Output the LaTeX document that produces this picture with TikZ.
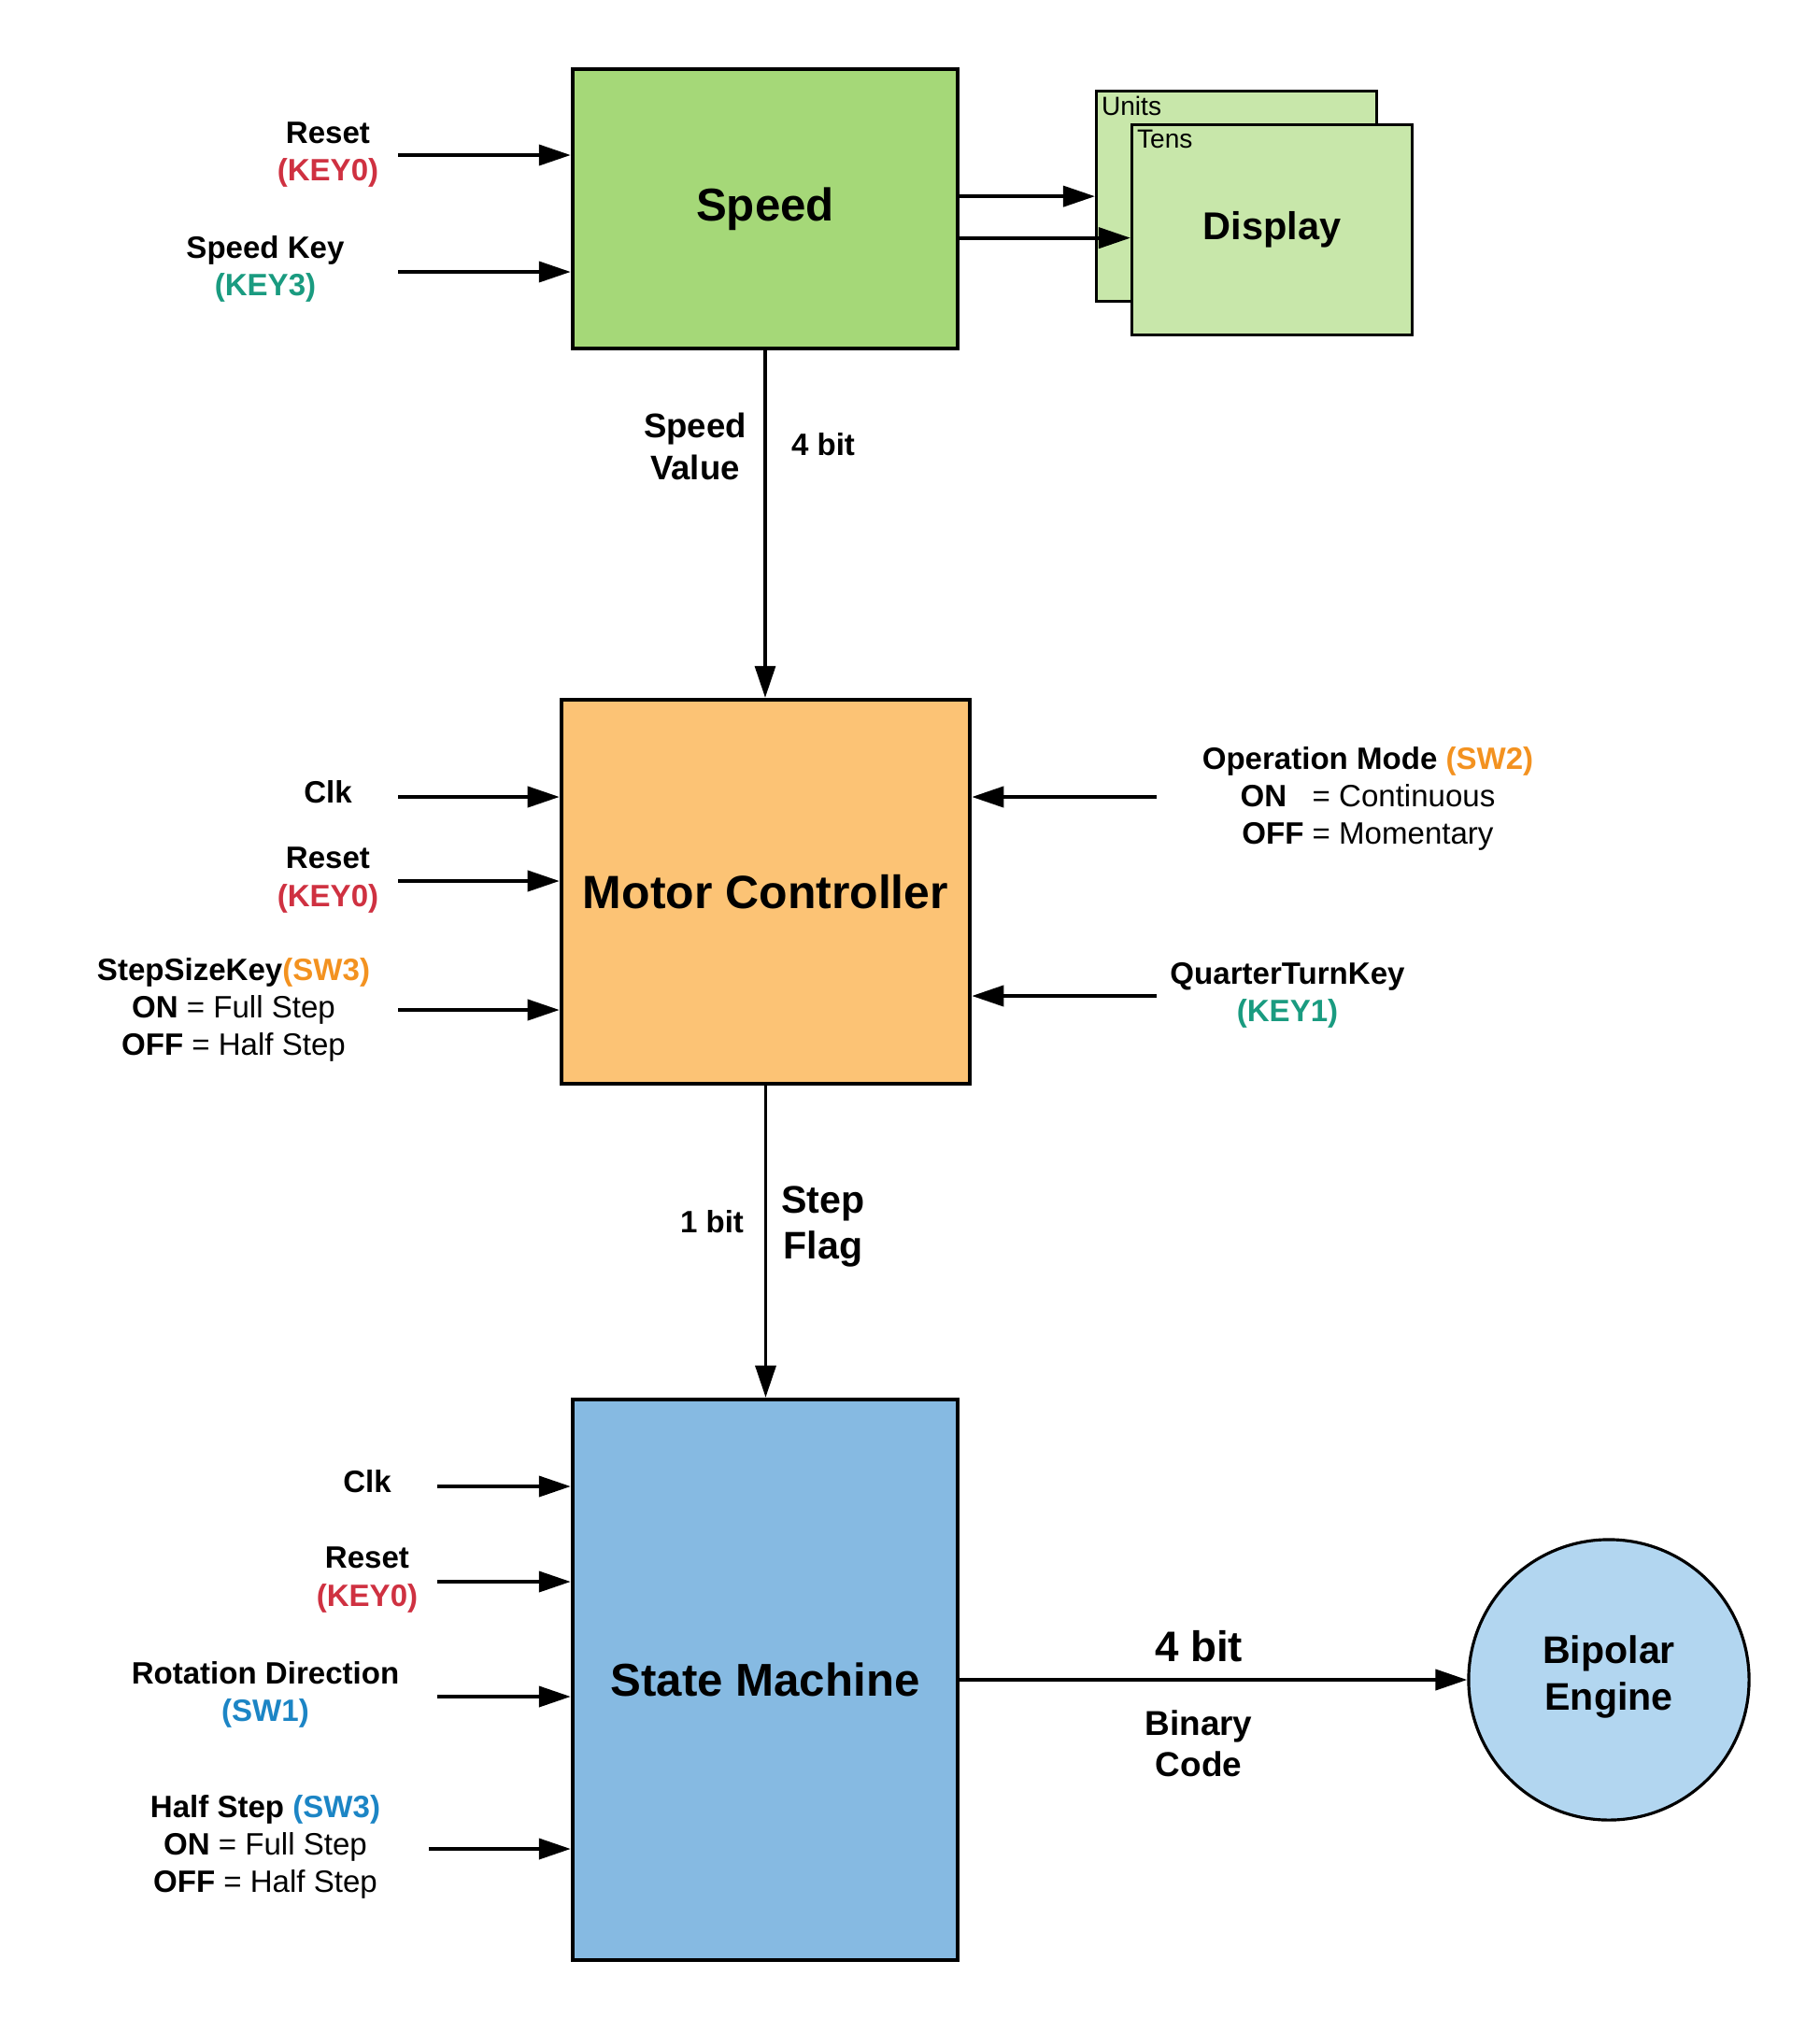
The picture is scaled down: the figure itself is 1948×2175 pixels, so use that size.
\documentclass[tikz,border=0pt]{standalone}
\usepackage{fontspec}
\setmainfont{Liberation Sans}
\usetikzlibrary{arrows.meta,positioning,calc}
\definecolor{speedgreen}{HTML}{A5D878}
\definecolor{dispgreen}{HTML}{C8E7AA}
\definecolor{motororange}{HTML}{FCC375}
\definecolor{stateblue}{HTML}{86BAE2}
\definecolor{engineblue}{HTML}{B2D6F0}
\definecolor{keyred}{HTML}{CF3141}
\definecolor{keyteal}{HTML}{1A9B80}
\definecolor{sworange}{HTML}{F39220}
\definecolor{swblue}{HTML}{1C85C5}
\newcommand{\redkey}[1]{\textcolor{keyred}{#1}}
\newcommand{\tealkey}[1]{\textcolor{keyteal}{#1}}
\newcommand{\orangesw}[1]{\textcolor{sworange}{#1}}
\newcommand{\bluesw}[1]{\textcolor{swblue}{#1}}

\begin{document}
\begin{tikzpicture}[
  x=0.01cm, y=-0.01cm,
  >={Triangle[length=3.4mm,width=2.2mm]},
  every node/.style={font=\fontsize{9.4}{11.4}\selectfont\bfseries,align=center},
  block/.style={draw,line width=1.2pt,inner sep=0pt},
  disp/.style={draw,line width=0.9pt,fill=dispgreen,minimum width=3cm,minimum height=2.25cm,inner sep=0pt},
  big/.style 2 args={font=\fontsize{#1}{#2}\selectfont\bfseries},
  arrow/.style={->,line width=1.1pt},
  bus/.style={->,line width=0.9pt}
]
  \useasboundingbox (0,0) rectangle (1948,2175);

  \node[block,fill=speedgreen,minimum width=4.12cm,minimum height=2.99cm,big={14}{17}] (speed) at (819,223.5) {Speed};
  \node[disp,anchor=north west] (units) at (1172,96) {};
  \node[anchor=north west,font=\fontsize{8}{9.6}\selectfont,inner sep=1.8pt] (unitslbl) at (units.north west) {Units};
  \draw[arrow] (speed.east |- units.west) -- (units.west);
  \node[disp,anchor=north west,big={11.8}{14},yshift=0.01cm] (tens) at (1210,133) {Display};
  \node[anchor=north west,font=\fontsize{8}{9.6}\selectfont,inner sep=1.8pt] (tenslbl) at (tens.north west) {Tens};
  \draw[arrow] ($(speed.east |- tens.west)+(0,8.5)$) -- ($(tens.west)+(0,8.5)$);

  \node (rst1) at (351,166) {Reset\\\redkey{(KEY0)}};
  \node (spkey) at (284,288) {Speed Key\\\tealkey{(KEY3)}};
  \coordinate (rst1in) at (426,166);
  \coordinate (spkeyin) at (426,291);
  \draw[arrow] (rst1in) -- (rst1in -| speed.west);
  \draw[arrow] (spkeyin) -- (spkeyin -| speed.west);

  \node[block,fill=motororange,minimum width=4.37cm,minimum height=4.11cm,big={14.2}{17}] (motor) at (819.5,954.5) {Motor Controller};
  \node[big={10.4}{12.6}] (spval) at (744,478) {Speed\\Value};
  \node (spbits) at (881,476) {4 bit};
  \draw[bus] (speed.south) -- (speed.south |- motor.north);

  \node (clk1) at (351,848) {Clk};
  \node (rst2) at (351,942) {Reset\\\redkey{(KEY0)}};
  \node (stepsize) at (250,1081) {StepSizeKey\orangesw{(SW3)}\\ON {\mdseries = Full Step}\\OFF {\mdseries = Half Step}};
  \node (opmode) at (1464,855) {Operation Mode \orangesw{(SW2)}\\ON\ \ \ {\mdseries = Continuous}\\OFF {\mdseries = Momentary}};
  \node (quarter) at (1378,1065) {QuarterTurnKey\\\tealkey{(KEY1)}};
  \coordinate (clk1in) at (426,853);
  \coordinate (rst2in) at (426,943);
  \coordinate (stepsizein) at (426,1081);
  \coordinate (opmodein) at (1238,853);
  \coordinate (quarterin) at (1238,1066);
  \draw[arrow] (clk1in) -- (clk1in -| motor.west);
  \draw[arrow] (rst2in) -- (rst2in -| motor.west);
  \draw[arrow] (stepsizein) -- (stepsizein -| motor.west);
  \draw[arrow] (opmodein) -- (opmodein -| motor.east);
  \draw[arrow] (quarterin) -- (quarterin -| motor.east);

  \node[block,fill=stateblue,minimum width=4.12cm,minimum height=6cm,big={14}{17}] (state) at (819,1798) {State Machine};
  \node (flagbits) at (762,1308) {1 bit};
  \node[big={11.7}{14.2}] (flag) at (881,1313) {Step\\Flag};
  \draw[bus] (motor.south) -- (motor.south |- state.north);

  \node (clk2) at (393,1586) {Clk};
  \node (rst3) at (393,1691) {Reset\\\redkey{(KEY0)}};
  \node (rotdir) at (284,1814) {Rotation Direction\\\bluesw{(SW1)}};
  \node (halfstep) at (284,1977) {Half Step \bluesw{(SW3)}\\ON {\mdseries = Full Step}\\OFF {\mdseries = Half Step}};
  \coordinate (clk2in) at (468,1591);
  \coordinate (rst3in) at (468,1693);
  \coordinate (rotdirin) at (468,1816);
  \coordinate (halfstepin) at (459,1979);
  \draw[arrow] (clk2in) -- (clk2in -| state.west);
  \draw[arrow] (rst3in) -- (rst3in -| state.west);
  \draw[arrow] (rotdirin) -- (rotdirin -| state.west);
  \draw[arrow] (halfstepin) -- (halfstepin -| state.west);

  \node[circle,draw,line width=0.9pt,fill=engineblue,minimum size=3cm,inner sep=0pt] (engine) at (1722,1798) {};
  \node[big={11.7}{14.2}] (enginelbl) at (1722,1795) {Bipolar\\Engine};
  \node[big={13}{15.6}] (outbits) at (1283,1762) {4 bit};
  \node[big={10.5}{12.6}] (code) at (1283,1866) {Binary\\Code};
  \draw[arrow] (state.east |- engine.west) -- (engine.west);
\end{tikzpicture}
\end{document}
